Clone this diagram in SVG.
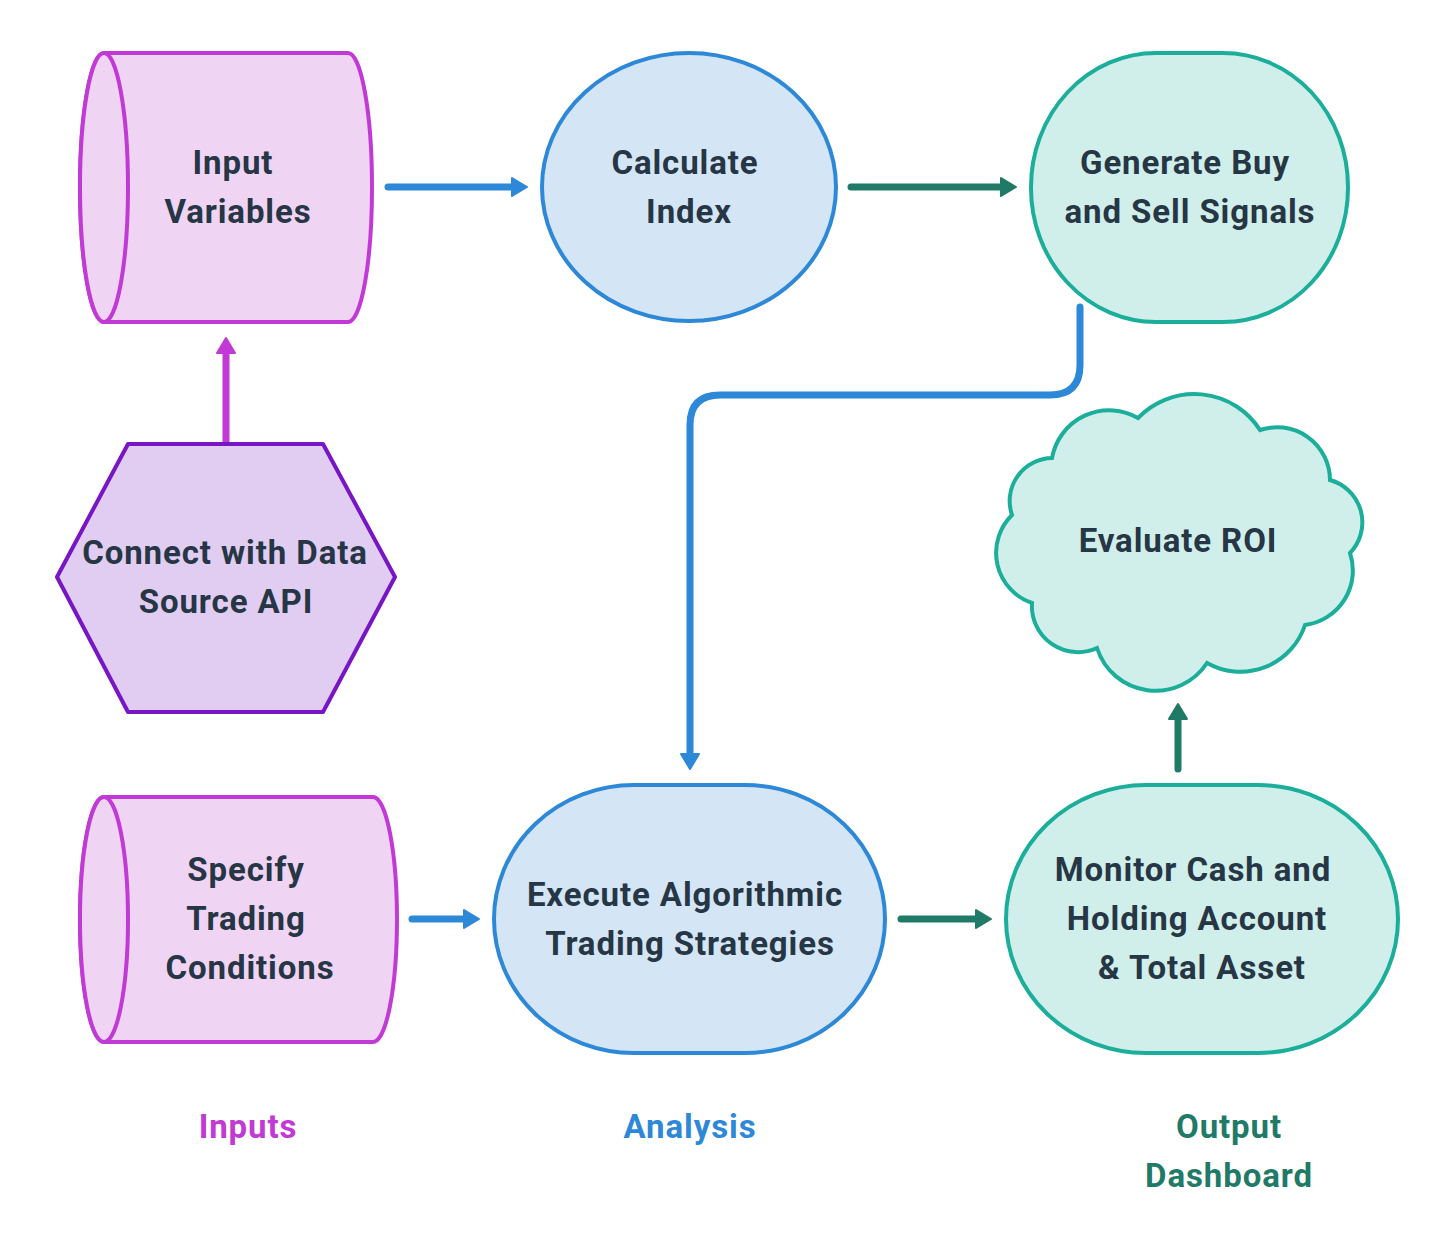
<svg xmlns="http://www.w3.org/2000/svg" width="1452" height="1252" viewBox="0 0 1452 1252">
<style>
.t{font-family:Roboto,"Noto Sans","Liberation Sans",sans-serif;font-weight:700;font-size:33px;letter-spacing:0.9px;fill:#263645;text-anchor:middle}
.lbl{font-family:Roboto,"Noto Sans","Liberation Sans",sans-serif;font-weight:700;font-size:33px;letter-spacing:0.9px;text-anchor:middle}
.cyl{fill:#F0D4F4;stroke:#C13AD6;stroke-width:4;stroke-linejoin:round}
.blue{fill:#D4E6F6;stroke:#2E88D8;stroke-width:4}
.teal{fill:#D0EEEA;stroke:#1BAE9A;stroke-width:4}
.hex{fill:#E1CDF2;stroke:#7815C4;stroke-width:4;stroke-linejoin:round}
.c{fill:none;stroke-width:7;stroke-linecap:round;stroke-linejoin:round}
</style>
<defs>
<marker id="mb" markerUnits="userSpaceOnUse" markerWidth="20" markerHeight="22" refX="3" refY="11" orient="auto"><path d="M2,2 L17,11 L2,20 Z" fill="#2E88D8" stroke="#2E88D8" stroke-width="2" stroke-linejoin="round"/></marker>
<marker id="mt" markerUnits="userSpaceOnUse" markerWidth="20" markerHeight="22" refX="3" refY="11" orient="auto"><path d="M2,2 L17,11 L2,20 Z" fill="#1F7A68" stroke="#1F7A68" stroke-width="2" stroke-linejoin="round"/></marker>
<marker id="mp" markerUnits="userSpaceOnUse" markerWidth="20" markerHeight="22" refX="3" refY="11" orient="auto"><path d="M2,2 L17,11 L2,20 Z" fill="#C13AD6" stroke="#C13AD6" stroke-width="2" stroke-linejoin="round"/></marker>
</defs>
<rect width="1452" height="1252" fill="#FFFFFF"/>

<g id="connectors">
<path class="c" stroke="#2E88D8" d="M388,187 L513,187" marker-end="url(#mb)"/>
<path class="c" stroke="#1F7A68" d="M851,187 L1002,187" marker-end="url(#mt)"/>
<path class="c" stroke="#2E88D8" d="M1080,307 L1080,365 Q1080,395 1050,395 L720,395 Q690,395 690,425 L690,755" marker-end="url(#mb)"/>
<path class="c" stroke="#C13AD6" d="M226,443 L226,352" marker-end="url(#mp)"/>
<path class="c" stroke="#2E88D8" d="M412,919 L465,919" marker-end="url(#mb)"/>
<path class="c" stroke="#1F7A68" d="M901,919 L977,919" marker-end="url(#mt)"/>
<path class="c" stroke="#1F7A68" d="M1178,769 L1178,718" marker-end="url(#mt)"/>
</g>

<g id="input-variables">
<path class="cyl" d="M104,53 L348,53 A24,134.5 0 0 1 348,322 L104,322 A24,134.5 0 0 1 104,53 Z"/>
<ellipse class="cyl" cx="104" cy="187.5" rx="24" ry="134.5"/>
<text class="t" x="233" y="174">Input</text>
<text class="t" x="238" y="223">Variables</text>
</g>

<g id="calculate-index">
<ellipse class="blue" cx="689" cy="187" rx="147" ry="134"/>
<text class="t" x="685" y="174">Calculate</text>
<text class="t" x="689" y="223">Index</text>
</g>

<g id="generate-signals">
<rect class="teal" x="1031" y="53" width="317" height="269" rx="125" ry="134"/>
<text class="t" x="1185" y="174">Generate Buy</text>
<text class="t" x="1190" y="223">and Sell Signals</text>
</g>

<g id="connect-api">
<path class="hex" d="M57,577 L128,444 L323,444 L395,577 L323,712 L128,712 Z"/>
<text class="t" x="225" y="564">Connect with Data</text>
<text class="t" x="226" y="613">Source API</text>
</g>

<g id="evaluate-roi">
<path class="teal" d="M1138,418 A78,78 0 0 1 1260,430 A53,53 0 0 1 1330,480 A44,44 0 0 1 1350,553 A55,55 0 0 1 1305,625 A68,68 0 0 1 1207,663 A61.5,61.5 0 0 1 1097,648 A46,46 0 0 1 1032,603 A53,53 0 0 1 1012,515 A43,43 0 0 1 1052,458 A58,58 0 0 1 1138,418 Z" stroke-linejoin="miter"/>
<text class="t" x="1178" y="552">Evaluate ROI</text>
</g>

<g id="specify-conditions">
<path class="cyl" d="M104,797 L373,797 A24,122.5 0 0 1 373,1042 L104,1042 A24,122.5 0 0 1 104,797 Z"/>
<ellipse class="cyl" cx="104" cy="919.5" rx="24" ry="122.5"/>
<text class="t" x="246" y="881">Specify</text>
<text class="t" x="246" y="930">Trading</text>
<text class="t" x="250" y="979">Conditions</text>
</g>

<g id="execute-strategies">
<rect class="blue" x="494" y="785" width="391" height="268" rx="140" ry="134"/>
<text class="t" x="685" y="906">Execute Algorithmic</text>
<text class="t" x="690" y="955">Trading Strategies</text>
</g>

<g id="monitor-cash">
<rect class="teal" x="1006" y="785" width="392" height="268" rx="140" ry="134"/>
<text class="t" x="1193" y="881">Monitor Cash and</text>
<text class="t" x="1197" y="930">Holding Account</text>
<text class="t" x="1202" y="979">&amp; Total Asset</text>
</g>

<g id="labels">
<text class="lbl" x="248" y="1138" fill="#C13AD6">Inputs</text>
<text class="lbl" x="690" y="1138" fill="#2E88D8">Analysis</text>
<text class="lbl" x="1229" y="1138" fill="#1F7A68">Output</text>
<text class="lbl" x="1229" y="1187" fill="#1F7A68">Dashboard</text>
</g>
</svg>
